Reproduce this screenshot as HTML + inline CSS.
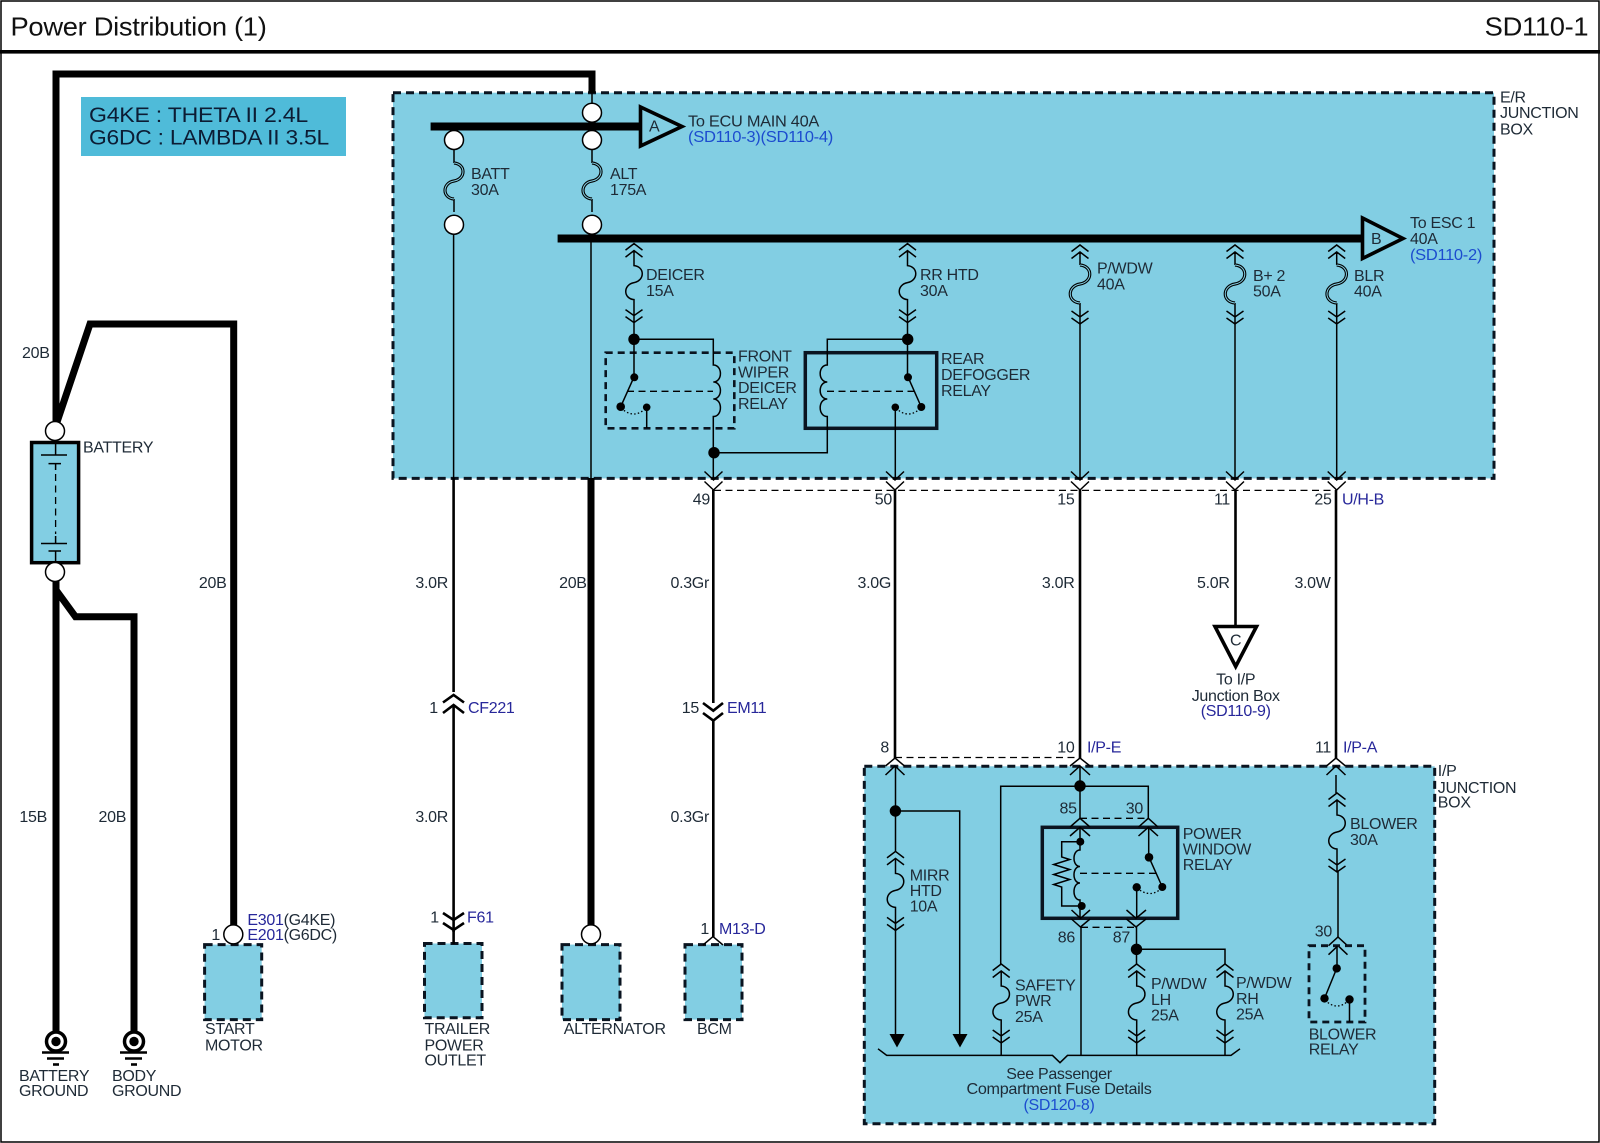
<!DOCTYPE html>
<html><head><meta charset="utf-8"><style>
html,body{margin:0;padding:0;background:#fff}
svg{display:block}
text{font-family:"Liberation Sans",sans-serif;font-size:16px;fill:#1e2a36;letter-spacing:-.3px}
.e{text-anchor:end}.m{text-anchor:middle}
.n{fill:#27279a}.b{fill:#1c4ccf}
.g{font-size:21.5px;fill:#0c1c34;letter-spacing:-.2px}
.h{font-size:26px;fill:#111;letter-spacing:-.3px}
.w{fill:none;stroke:#000;stroke-width:1.5}
.w2{fill:none;stroke:#000;stroke-width:2.6}
.w7{fill:none;stroke:#000;stroke-width:7;stroke-linejoin:miter}
.box{fill:#82cee3;stroke:#0a1420;stroke-width:3;stroke-dasharray:8 5}
.c{fill:#fff;stroke:#000;stroke-width:1.5}
.dash{fill:none;stroke:#000;stroke-width:1.3;stroke-dasharray:7 4.5}
.dot{fill:none;stroke:#000;stroke-width:1.3;stroke-dasharray:1.5 2.2}
</style></head><body>
<svg width="1600" height="1143" viewBox="0 0 1600 1143" xmlns="http://www.w3.org/2000/svg">
<defs>
<g id="fs"><path class="w" d="M-8.5 6.5L0 0L8.5 6.5M-8.5 13.5L0 7L8.5 13.5M0 7V22C11 23 11 37 0 39C-11 41 -11 55 0 56V79M-8.5 66L0 72L8.5 66M-8.5 73L0 79L8.5 73"/></g>
<g id="fd"><path class="w" d="M-8.5 6.5L0 0L8.5 6.5M-8.5 13.5L0 7L8.5 13.5M0 7V20M0 58V79M-8.5 66L0 72L8.5 66M-8.5 73L0 79L8.5 73"/><path d="M0 20C13 21 13 37 0 39C-13 41 -13 57 0 58" fill="none" stroke="#000" stroke-width="3.2"/><path d="M0 20C13 21 13 37 0 39C-13 41 -13 57 0 58" fill="none" stroke="#82cee3" stroke-width="1"/></g>
<g id="fb"><path class="w" d="M0 0V13M0 49V62"/><path d="M0 13C12 14 12 29 0 31C-12 33 -12 48 0 49" fill="none" stroke="#000" stroke-width="3.2"/><path d="M0 13C12 14 12 29 0 31C-12 33 -12 48 0 49" fill="none" stroke="#82cee3" stroke-width="1"/></g>
<g id="gnd"><circle r="9.5" cy="0" fill="#fff" stroke="#000" stroke-width="3.5"/><circle r="4.7" fill="#000"/><path d="M-14 11H13" stroke="#000" stroke-width="2.6"/><path d="M-9 17H8" stroke="#000" stroke-width="2.6"/><path d="M-3 23H3" stroke="#000" stroke-width="2.6"/></g>
</defs>

<!-- frame -->
<rect x="1" y="1" width="1598" height="1141" fill="#fff" stroke="#000" stroke-width="1.5"/>
<rect x="0" y="50" width="1600" height="3.6" fill="#000"/>
<text class="h" x="10.5" y="35.5" textLength="256" lengthAdjust="spacingAndGlyphs">Power Distribution (1)</text>
<text class="h" x="1484.7" y="35.5" textLength="103.6" lengthAdjust="spacingAndGlyphs">SD110-1</text>

<!-- engine label -->
<rect x="81" y="97" width="265" height="59" fill="#4fbbd9"/>
<text class="g" x="89" y="122" textLength="219" lengthAdjust="spacingAndGlyphs">G4KE : THETA II 2.4L</text>
<text class="g" x="89" y="144.7" textLength="240" lengthAdjust="spacingAndGlyphs">G6DC : LAMBDA II 3.5L</text>

<!-- junction boxes -->
<rect class="box" x="393" y="92.7" width="1101" height="385.7"/>
<rect class="box" x="864.3" y="766.3" width="570.4" height="357.4"/>
<rect class="box" x="204.6" y="944.6" width="57.1" height="75"/>
<rect class="box" x="424.5" y="943.5" width="57.5" height="74.2"/>
<rect class="box" x="562" y="944.6" width="58" height="75"/>
<rect class="box" x="685" y="944.6" width="57" height="75"/>

<!-- thick wires -->
<path class="w7" d="M56 425V74H592V93"/>
<path class="w7" d="M56 425L90 324H233.7V926"/>
<path class="w7" d="M56 578V1032"/>
<path class="w7" d="M56 590L75.5 616.8H134V1032"/>
<path class="w7" d="M591 478V926"/>

<!-- buses -->
<rect x="430.6" y="122.5" width="210" height="8" fill="#000"/>
<rect x="557.6" y="234.5" width="805" height="8" fill="#000"/>
<path d="M640.5 107L682 126.5L640.5 146Z" fill="#82cee3" stroke="#000" stroke-width="3.6"/>
<path d="M1362.5 218L1403 238.5L1362.5 258.5Z" fill="#82cee3" stroke="#000" stroke-width="3.6"/>
<text x="649" y="131.5">A</text>
<text x="1371" y="244">B</text>

<!-- battery -->
<rect x="31.6" y="442.5" width="47" height="120.2" fill="#82cee3" stroke="#000" stroke-width="3.5"/>
<path class="w" d="M55.6 442.5V455M41 455H67M48.5 463.6H61M55.6 463.6V470M55.6 536V543.5M41 543.5H67M48.5 551H61M55.6 551V562.7"/>
<path class="dash" d="M55.6 474V534" stroke-dasharray="6 5"/>
<circle class="c" cx="55" cy="431" r="9.5"/>
<circle class="c" cx="55" cy="572" r="9.5"/>

<!-- grounds -->
<use href="#gnd" x="56" y="1041.5"/>
<use href="#gnd" x="134" y="1041.5"/>

<!-- BATT / ALT -->
<path class="w" d="M592 93V103M453.6 235V478M591 235V478"/>
<path d="M453.6 478V692M453.6 705V932" fill="none" stroke="#000" stroke-width="2.6"/>
<use href="#fb" x="454" y="150"/>
<use href="#fb" x="592" y="150"/>
<circle class="c" cx="592" cy="112.7" r="9.5"/>
<circle class="c" cx="592" cy="140" r="9.5"/>
<circle class="c" cx="454" cy="140" r="9.5"/>
<circle class="c" cx="454" cy="224.7" r="9.5"/>
<circle class="c" cx="592" cy="224.7" r="9.5"/>
<circle class="c" cx="233.3" cy="934.4" r="9.5"/>
<circle class="c" cx="591" cy="934.4" r="9.5"/>

<!-- CF221 / F61 connectors -->
<path class="w2" d="M443 702.5L453.6 695L464 702.5M443 713L453.6 705L464 713M443 913L453.6 920L464 913M443 923L453.6 930L464 923"/>
<path d="M453.6 930V944" stroke="#000" stroke-width="2.6"/>

<!-- fuses top row -->
<use href="#fs" x="634" y="243.6"/>
<use href="#fs" x="907.5" y="243.6"/>
<use href="#fd" x="1080" y="245"/>
<use href="#fd" x="1235" y="245"/>
<use href="#fd" x="1336.7" y="245"/>

<!-- front wiper relay -->
<rect x="605.7" y="352.7" width="128.6" height="75.6" fill="none" stroke="#0a1420" stroke-width="2.6" stroke-dasharray="7 5"/>
<path class="w" d="M634 323V377M634 339.3H713.3V365c9.5 0 9.5 17 0 17c9.5 0 9.5 17 0 17c9.5 0 9.5 17.5 0 17.5V480"/>
<path class="w" d="M646.7 407V428"/>
<path class="w" stroke-width="2" d="M634 377L620.7 406.7"/>
<path class="dash" d="M627 391.3H713" stroke-dasharray="6 4"/>
<path class="dot" d="M621 408Q634 420 646 408"/>
<circle cx="634" cy="339.3" r="5.7"/><circle cx="634.3" cy="377.3" r="4"/><circle cx="620.7" cy="406.7" r="4.3"/><circle cx="646.7" cy="407.3" r="3.8"/><circle cx="714" cy="452.7" r="5.7"/>

<!-- rear defogger relay -->
<rect x="805.3" y="352.7" width="131.4" height="75.6" fill="none" stroke="#0a1420" stroke-width="3.5"/>
<path class="w" d="M907.5 323V377M907.5 339.3H827.3V365c-9.5 0 -9.5 17 0 17c-9.5 0 -9.5 17 0 17c-9.5 0 -9.5 17.5 0 17.5V452.7H714"/>
<path class="w" d="M895.3 407V480"/>
<path class="w" stroke-width="2" d="M908 377L921.3 407"/>
<path class="dash" d="M827 391.3H915" stroke-dasharray="6 4"/>
<path class="dot" d="M896 408Q908 420 921 408"/>
<circle cx="907.7" cy="339.3" r="5.7"/><circle cx="908" cy="377.3" r="4"/><circle cx="921.3" cy="407" r="4"/><circle cx="895.3" cy="407.3" r="3.8"/>

<!-- drops to connectors -->
<path class="w" d="M1080 324V480M1235 324V480M1336.7 324V480"/>
<g>
<path class="w" d="M704.5 471.5L713.5 480L722.5 471.5M704.5 481.5L713.5 490L722.5 481.5"/>
<path class="w" d="M886 471.5L895 480L904 471.5M886 481.5L895 490L904 481.5"/>
<path class="w" d="M1071 471.5L1080 480L1089 471.5M1071 481.5L1080 490L1089 481.5"/>
<path class="w" d="M1226 471.5L1235 480L1244 471.5M1226 481.5L1235 490L1244 481.5"/>
<path class="w" d="M1327.7 471.5L1336.7 480L1345.7 471.5M1327.7 481.5L1336.7 490L1345.7 481.5"/>
</g>
<path class="dash" d="M714 490.4H1337"/>
<g fill="none" stroke="#000" stroke-width="2.6">
<path d="M713.3 490V703M713.3 721V937"/>
<path d="M895 490V758M1080 490V758M1336 490V758M1235.5 490V625"/>
</g>
<path class="w2" d="M703 703L713.3 710.7L723 703M703 713L713.3 720.6L723 713"/>
<path class="w" d="M703 945L713 936.6L723 945"/>

<!-- triangle C -->
<path d="M1215 626.5H1256.5L1235.7 666.5Z" fill="#fff" stroke="#000" stroke-width="3.6"/>

<!-- I/P connectors -->
<path class="w" d="M885.5 766L895 758L904.5 766M885.5 775L895 766L904.5 775"/>
<path class="w" d="M1070 766L1080 758L1090 766M1070 775L1080 766L1090 775"/>
<path class="w" d="M1326.5 766L1336 758L1345.5 766M1326.5 775L1336 766L1345.5 775"/>
<path class="dash" d="M895 757.5H1080"/>

<!-- MIRR HTD branch -->
<path class="w" d="M895.5 766V851M895.5 930V1036M895.5 811H959.7V1036"/>
<use href="#fs" x="895.5" y="851.4"/>
<circle cx="895.4" cy="811" r="5.7"/>
<path d="M889.5 1034H904.5L897 1047.5ZM952.5 1034H967.5L960 1047.5Z"/>

<!-- power window relay -->
<rect x="1042.3" y="827.3" width="135.4" height="91" fill="none" stroke="#0a1420" stroke-width="3.5"/>
<path class="w" d="M1080 766V818M1000.7 964V786.3H1148.3V818"/>
<path class="w" d="M1070 827L1080 818.3L1090 827M1070 836L1080 827.3L1090 836M1138.5 827L1148.3 818.3L1158 827M1138.5 836L1148.3 827.3L1158 836"/>
<path class="dash" d="M1080 818.3H1148"/>
<path class="w" d="M1080 827V850c-8 0 -8 16.5 0 16.5c-8 0 -8 16.5 0 16.5c-8 0 -8 17 0 17V918"/>
<path class="w" d="M1080.3 841.7H1061.7V857l8 2.5l-16 5l16 5l-16 5l16 5l-16 5l8 2.5V906H1081.7"/>
<path class="dash" d="M1080 873.3H1157" stroke-dasharray="6 4"/>
<path class="w" d="M1148.7 827V857.3M1136.7 887V918"/>
<path class="w" stroke-width="2" d="M1149 857.3L1162.3 887"/>
<path class="dot" d="M1137 888Q1150 899 1162 888"/>
<circle cx="1080" cy="786" r="5.7"/><circle cx="1080.3" cy="841.7" r="4"/><circle cx="1081.7" cy="906" r="4"/><circle cx="1149" cy="857.3" r="4.3"/><circle cx="1162.3" cy="887" r="4"/><circle cx="1136.7" cy="887.3" r="4.2"/>
<path class="w" d="M1071.5 910L1080.5 918.3L1090 910M1071.5 919L1080.5 927L1090 919M1126.5 910L1136 918.3L1146 910M1126.5 919L1136 927L1146 919"/>
<path class="dash" d="M1081 927.3H1136"/>
<path class="w" d="M1081 927V1055.4M1136.5 927V965M1136.5 949.3H1225V965"/>
<circle cx="1136.5" cy="949.3" r="5.7"/>

<use href="#fs" x="1001.2" y="964"/>
<use href="#fs" x="1136.7" y="964"/>
<use href="#fs" x="1225" y="964"/>
<path class="w" d="M1001.2 1043V1055.4M1136.7 1043V1055.4M1225 1043V1055.4"/>

<!-- bottom bar -->
<path class="w" d="M878 1048.8L886.7 1055.4H1052.5L1060 1062.7L1067.5 1055.4H1231L1240 1048.8"/>

<!-- blower -->
<path class="w" d="M1336 775V793M1338 871V937"/>
<use href="#fs" x="1337" y="793"/>
<path class="w" d="M1328.5 945.7L1338 937L1347.5 945.7M1328.5 954.7L1338 945.7L1347.5 954.7"/>
<rect x="1309" y="945.7" width="56" height="76.3" fill="none" stroke="#0a1420" stroke-width="2.8" stroke-dasharray="7 5"/>
<path class="w" d="M1337 946V968M1349.5 999.5V1022"/>
<path class="w" stroke-width="2" d="M1336.7 968.4L1324.5 998.4"/>
<path class="dot" d="M1325 1000Q1337 1012 1349 1000"/>
<circle cx="1336.7" cy="968.4" r="4.2"/><circle cx="1324.5" cy="998.4" r="4.2"/><circle cx="1349.5" cy="999.5" r="4.2"/>

<!-- LABELS -->
<text x="688" y="126.5" textLength="131" lengthAdjust="spacingAndGlyphs">To ECU MAIN 40A</text>
<text class="b" x="688" y="141.8" textLength="145" lengthAdjust="spacingAndGlyphs">(SD110-3)(SD110-4)</text>
<text x="1410" y="228">To ESC 1</text>
<text x="1410" y="244">40A</text>
<text class="b" x="1410" y="260" textLength="72" lengthAdjust="spacingAndGlyphs">(SD110-2)</text>
<text x="1500" y="102.5">E/R</text><text x="1500" y="118">JUNCTION</text><text x="1500" y="134.5">BOX</text>

<text x="471" y="179">BATT</text><text x="471" y="195">30A</text>
<text x="610" y="179">ALT</text><text x="610" y="195">175A</text>
<text x="646" y="280">DEICER</text><text x="646" y="296">15A</text>
<text x="920" y="280">RR HTD</text><text x="920" y="296">30A</text>
<text x="1097" y="273.5">P/WDW</text><text x="1097" y="289.5">40A</text>
<text x="1253" y="281">B+ 2</text><text x="1253" y="296.5">50A</text>
<text x="1354" y="281">BLR</text><text x="1354" y="296.5">40A</text>
<text x="738" y="361.7">FRONT</text><text x="738" y="377.7">WIPER</text><text x="738" y="393">DEICER</text><text x="738" y="409">RELAY</text>
<text x="941" y="364">REAR</text><text x="941" y="380">DEFOGGER</text><text x="941" y="396">RELAY</text>

<text class="e" x="710" y="504.7">49</text>
<text class="e" x="892" y="504.7">50</text>
<text class="e" x="1074.5" y="504.7">15</text>
<text class="e" x="1230" y="504.7">11</text>
<text class="e" x="1331.6" y="504.7">25</text>
<text class="n" x="1342" y="504.7">U/H-B</text>

<text x="22" y="358">20B</text>
<text x="83" y="452.7">BATTERY</text>
<text class="e" x="226.5" y="588">20B</text>
<text class="e" x="448" y="588">3.0R</text>
<text class="e" x="586.7" y="588">20B</text>
<text class="e" x="709" y="588">0.3Gr</text>
<text class="e" x="891" y="588">3.0G</text>
<text class="e" x="1074.5" y="588">3.0R</text>
<text class="e" x="1229.6" y="588">5.0R</text>
<text class="e" x="1330.6" y="588">3.0W</text>

<text x="1230" y="645.5">C</text>
<text class="m" x="1235.7" y="684.4">To I/P</text>
<text class="m" x="1235.7" y="700.8">Junction Box</text>
<text class="m n" x="1235.7" y="716">(SD110-9)</text>

<text class="e" x="437.8" y="713">1</text><text class="n" x="468" y="713">CF221</text>
<text class="e" x="699" y="713">15</text><text class="n" x="727" y="713">EM11</text>
<text x="19.4" y="822">15B</text>
<text x="98.5" y="822">20B</text>
<text class="e" x="448" y="822">3.0R</text>
<text class="e" x="709" y="822">0.3Gr</text>

<text class="e" x="438.8" y="922.7">1</text><text class="n" x="467" y="922.7">F61</text>
<text class="e" x="709" y="934">1</text><text class="n" x="719" y="934">M13-D</text>
<text x="247.4" y="925"><tspan class="n">E301</tspan>(G4KE)</text>
<text x="247.4" y="940"><tspan class="n">E201</tspan>(G6DC)</text>
<text class="e" x="220" y="940">1</text>

<text x="205" y="1034">START</text><text x="205" y="1050.6">MOTOR</text>
<text x="424.5" y="1034">TRAILER</text><text x="424.5" y="1050.6">POWER</text><text x="424.5" y="1065.5">OUTLET</text>
<text x="563.8" y="1034">ALTERNATOR</text>
<text x="697" y="1034">BCM</text>
<text x="19" y="1081">BATTERY</text><text x="19" y="1096">GROUND</text>
<text x="112" y="1081">BODY</text><text x="112" y="1096">GROUND</text>

<text class="e" x="889" y="752.7">8</text>
<text class="e" x="1074.5" y="752.7">10</text><text class="n" x="1087" y="752.7">I/P-E</text>
<text class="e" x="1331" y="752.7">11</text><text class="n" x="1343" y="752.7">I/P-A</text>
<text x="1437.8" y="775.8">I/P</text><text x="1437.8" y="793">JUNCTION</text><text x="1437.8" y="807.6">BOX</text>

<text x="909.7" y="880.7">MIRR</text><text x="909.7" y="896">HTD</text><text x="909.7" y="911.7">10A</text>
<text class="e" x="1076.7" y="813.3">85</text><text class="e" x="1143" y="813.3">30</text>
<text x="1182.7" y="839">POWER</text><text x="1182.7" y="854.3">WINDOW</text><text x="1182.7" y="870">RELAY</text>
<text class="e" x="1075" y="942.3">86</text><text class="e" x="1130" y="942.3">87</text>
<text x="1015" y="990.3">SAFETY</text><text x="1015" y="1006">PWR</text><text x="1015" y="1022">25A</text>
<text x="1151" y="989">P/WDW</text><text x="1151" y="1005">LH</text><text x="1151" y="1020.7">25A</text>
<text x="1236" y="988">P/WDW</text><text x="1236" y="1004">RH</text><text x="1236" y="1019.6">25A</text>
<text x="1350" y="828.8">BLOWER</text><text x="1350" y="845">30A</text>
<text class="e" x="1332" y="936.6">30</text>
<text x="1308.7" y="1039.7">BLOWER</text><text x="1308.7" y="1054.3">RELAY</text>
<text class="m" x="1059" y="1078.8">See Passenger</text>
<text class="m" x="1059" y="1093.8" textLength="185" lengthAdjust="spacingAndGlyphs">Compartment Fuse Details</text>
<text class="m b" x="1059" y="1109.8">(SD120-8)</text>
</svg>
</body></html>
